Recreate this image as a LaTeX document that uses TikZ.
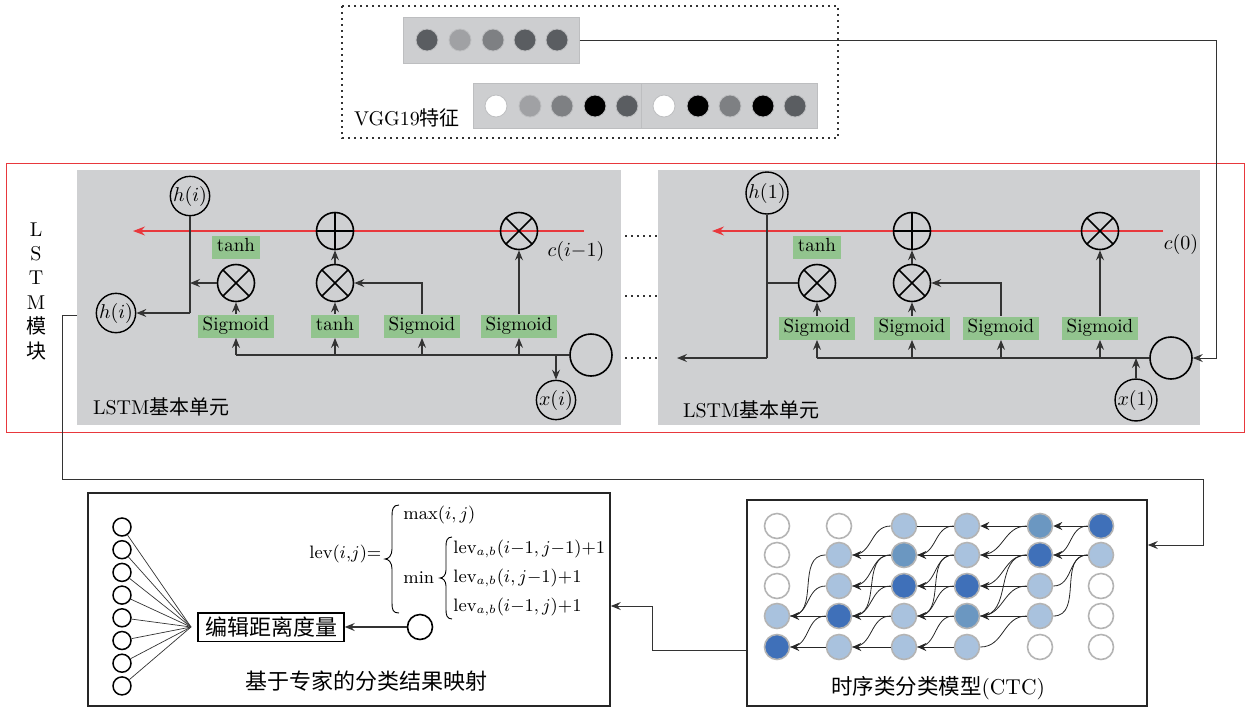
\documentclass[tikz,border=0pt]{standalone}
\usepackage{fontspec}
\newfontfamily\cjk{Noto Sans CJK SC}
\usetikzlibrary{arrows.meta}
\newcommand{\fsz}[2]{\fontsize{#1}{#2}\selectfont}
\definecolor{cellgray}{HTML}{CFD0D2}
\definecolor{barfill}{HTML}{CDCED0}
\definecolor{barline}{HTML}{BDBEC0}
\definecolor{sgreen}{HTML}{92C48E}
\definecolor{redl}{HTML}{E8383D}
\definecolor{lineg}{HTML}{333333}
\definecolor{ctcL}{HTML}{A9C2DE}
\definecolor{ctcM}{HTML}{6B97C1}
\definecolor{ctcD}{HTML}{3F70B9}
\definecolor{ctcO}{HTML}{B4B4B4}
\definecolor{vgD}{HTML}{5A5D61}
\definecolor{vgM}{HTML}{7E8083}
\definecolor{vgL}{HTML}{A0A1A4}
\begin{document}
\begin{tikzpicture}[x=0.5pt,y=-0.5pt,
 conn/.style={draw=lineg,line width=0.55pt},
 arr/.style={conn,-{Stealth[length=5pt,width=4pt,inset=1.75pt]}},
 gbox/.style={fill=sgreen,inner xsep=2.5pt,inner ysep=1.5pt,text height=6.5pt,text depth=2pt,font=\fsz{9.5}{11.5}},
 opc/.style={circle,draw=black,line width=0.8pt,minimum size=18.5pt,inner sep=0pt},
 otimes/.style={opc,path picture={\draw[line width=0.8pt] (path picture bounding box.north west)--(path picture bounding box.south east) (path picture bounding box.north east)--(path picture bounding box.south west);}},
 oplus/.style={opc,path picture={\draw[line width=0.8pt] (path picture bounding box.north)--(path picture bounding box.south) (path picture bounding box.west)--(path picture bounding box.east);}},
 vcirc/.style={circle,draw=black,line width=0.7pt,minimum size=18pt,inner sep=0pt,font=\fsz{10}{12}},
 bigc/.style={circle,draw=black,line width=0.8pt,minimum size=21pt,inner sep=0pt},
 lbl/.style={font=\fsz{10}{12}},
 fml/.style={font=\fsz{9}{11},anchor=west,inner sep=0pt},
 brc/.style={draw=black,line width=0.45pt},
 redarr/.style={draw=redl,line width=0.55pt,-{Stealth[length=6pt,width=4.5pt,inset=2pt]}},
 vg/.style={circle,minimum size=11pt,inner sep=0pt,draw=barline,line width=0.4pt},
 ct/.style={circle,minimum size=12.5pt,inner sep=0pt,draw=ctcO,line width=0.8pt},
 carr/.style={draw=black!85,line width=0.5pt,-{Stealth[length=4.5pt,width=4pt,inset=1.5pt]}},
 curve/.style={draw=black!85,line width=0.4pt},
 dotl/.style={dash pattern=on 0.8pt off 2.2pt,line width=0.8pt,draw=black!80},
]
\useasboundingbox (0,0) rectangle (1254,709);

% ---------- VGG19 features ----------
\draw[dotl] (342,6) rectangle (838,138);
\node[fill=barfill,draw=barline,line width=0.5pt,minimum width=88pt,minimum height=23pt,inner sep=0pt] (bar1) at (491,40) {};
\foreach \x/\c [count=\i] in {427/vgD,460/vgL,493/vgM,525/vgD,557/vgD}
  \node[vg,fill=\c] (va\i) at (\x,40) {};
\node[fill=barfill,draw=barline,line width=0.5pt,minimum width=172pt,minimum height=22.5pt,inner sep=0pt] (bar2) at (645,105.5) {};
\coordinate (dv1) at (641,83);
\coordinate (dv2) at (641,128);
\draw[barline,line width=0.5pt] (dv1) -- (dv2);
\foreach \x/\c [count=\i] in {496/white,530/vgL,562/vgM,595/black,627/vgD,664/white,698/black,730/vgM,763/black,795/vgD}
  \node[vg,fill=\c] (vb\i) at (\x,106) {};
\node[lbl,anchor=west] (vggl) at (347,118) {VGG19{\cjk 特征}};

% ---------- LSTM module ----------
\draw[redl,line width=0.5pt] (6,163) rectangle (1244,432);
\fill[cellgray] (77,170) rectangle (621,425);
\fill[cellgray] (658,170) rectangle (1200,425);
\node[font=\fsz{10}{12.2},align=center] (lstmlab) at (36,291) {L\\S\\T\\M\\{\cjk 模}\\{\cjk 块}};

% left cell
\coordinate (rL1) at (584,231);
\coordinate (rL0) at (133,231);
\draw[redarr] (rL1) -- (rL0);
\node[vcirc] (hT) at (190,196) {$h(i)$};
\node[oplus] (pL) at (335,231) {};
\node[otimes] (tL) at (519,231) {};
\node[lbl] (cL) at (576,251) {$c(i{-}1)$};
\node[gbox] (tanhL) at (236,247) {tanh};
\node[otimes] (xLa) at (236,283) {};
\node[otimes] (xLb) at (335,283) {};
\node[vcirc] (hL) at (116,313) {$h(i)$};
\node[gbox] (s1) at (236,326) {Sigmoid};
\node[gbox] (s2) at (335,326) {tanh};
\node[gbox] (s3) at (422,326) {Sigmoid};
\node[gbox] (s4) at (519,326) {Sigmoid};
\node[bigc] (bL) at (591,355) {};
\node[vcirc] (xi) at (556,400) {$x(i)$};
\node[lbl,anchor=west] (cellL) at (86,407) {LSTM{\cjk 基本单元}};
\coordinate (jL) at (190,313);
\coordinate (jL2) at (190,283);
\coordinate (iL0) at (236,355);
\draw[conn] (hT) -- (jL);
\draw[arr] (jL) -- (hL);
\draw[arr] (xLa.west) -- (jL2);
\draw[arr] (s1) -- (xLa);
\draw[arr] (s2) -- (xLb);
\draw[arr] (xLb) -- (pL);
\draw[arr] (s3.north) |- (xLb.east);
\draw[arr] (s4) -- (tL);
\draw[conn] (bL.west) -- (iL0);
\draw[arr] (iL0) -- (s1.south);
\draw[arr] (s2 |- bL) -- (s2.south);
\draw[arr] (s3 |- bL) -- (s3.south);
\draw[arr] (s4 |- bL) -- (s4.south);
\draw[arr] (xi |- bL) -- (xi.north);

% dots between cells
\foreach \y [count=\i] in {236,296,358}{
  \coordinate (da\i) at (625,\y);
  \coordinate (db\i) at (657,\y);
  \draw[dotl] (da\i) -- (db\i);
}

% right cell
\coordinate (rR1) at (1163,231);
\coordinate (rR0) at (712,231);
\draw[redarr] (rR1) -- (rR0);
\node[vcirc] (hR) at (767,193) {$h(1)$};
\node[oplus] (pR) at (912,231) {};
\node[otimes] (tR) at (1100,231) {};
\node[lbl] (cR) at (1181,244) {$c(0)$};
\node[gbox] (tanhR) at (817,247) {tanh};
\node[otimes] (xRa) at (817,283) {};
\node[otimes] (xRb) at (912,283) {};
\node[gbox] (r1) at (817,328) {Sigmoid};
\node[gbox] (r2) at (912,328) {Sigmoid};
\node[gbox] (r3) at (1001,328) {Sigmoid};
\node[gbox] (r4) at (1100,328) {Sigmoid};
\node[bigc] (bR) at (1171,358) {};
\node[vcirc] (x1) at (1136,400) {$x(1)$};
\node[lbl,anchor=west] (cellR) at (676,410) {LSTM{\cjk 基本单元}};
\coordinate (jR) at (767,358);
\coordinate (oR) at (677,358);
\coordinate (jR2) at (767,283);
\coordinate (iR0) at (817,358);
\draw[conn] (hR) -- (jR);
\draw[arr] (jR) -- (oR);
\draw[conn] (xRa.west) -- (jR2);
\draw[arr] (r1) -- (xRa);
\draw[arr] (r2) -- (xRb);
\draw[arr] (xRb) -- (pR);
\draw[arr] (r3.north) |- (xRb.east);
\draw[arr] (r4) -- (tR);
\draw[conn] (bR.west) -- (iR0);
\draw[arr] (iR0) -- (r1.south);
\draw[arr] (r2 |- bR) -- (r2.south);
\draw[arr] (r3 |- bR) -- (r3.south);
\draw[arr] (r4 |- bR) -- (r4.south);
\draw[arr] (x1.north) -- (x1 |- bR);

% VGG -> right cell
\coordinate (vc1) at (1216,40);
\coordinate (vc2) at (1216,358);
\draw[arr,line width=0.5pt] (bar1.east) -- (vc1) -- (vc2) -- (bR.east);

% ---------- CTC ----------
\node[draw=black!85,line width=0.8pt,minimum width=200pt,minimum height=103pt,inner sep=0pt] (ctcbox) at (947,603) {};
\foreach \col/\x/\ca/\cb/\cc/\cd/\ce in {1/777/white/white/white/ctcL/ctcD,2/839/white/ctcL/ctcL/ctcD/ctcL,3/904/ctcL/ctcM/ctcD/ctcL/ctcL,4/967/ctcL/ctcL/ctcD/ctcM/ctcL,5/1040/ctcM/ctcD/ctcL/ctcL/white,6/1101/ctcD/ctcL/white/white/white}{
  \node[ct,fill=\ca] (c\col1) at (\x,526) {};
  \node[ct,fill=\cb] (c\col2) at (\x,555) {};
  \node[ct,fill=\cc] (c\col3) at (\x,586) {};
  \node[ct,fill=\cd] (c\col4) at (\x,616) {};
  \node[ct,fill=\ce] (c\col5) at (\x,647) {};
}
\draw[curve,line width=0.5pt] (c41) -- (c31);
\foreach \a/\b in {61/51,51/41,62/52,52/42,42/32,32/22,53/43,43/33,33/23,54/44,44/34,34/24,24/14,45/35,35/25,25/15}
  \draw[carr] (c\a) -- (c\b);
\foreach \a/\b in {22/14,23/14,24/15,31/22,32/23,32/24,33/24,34/25,41/32,42/33,42/34,43/34,44/35,51/42,52/43,52/44,53/44,54/45,61/52,62/53,62/54}
  \draw[curve] (c\a.west) to[out=180,in=0,looseness=1.1] (c\b.east);
\node[font=\fsz{10.75}{13}] (ctclab) at (938,688) {{\cjk 时序类分类模型}(CTC)};

% LSTM -> CTC
\coordinate (k0) at (77,315);
\coordinate (k1) at (62,315);
\coordinate (k2) at (62,479);
\coordinate (k3) at (1203,479);
\coordinate (k4) at (1203,545);
\draw[arr,line width=0.5pt] (k0) -- (k1) -- (k2) -- (k3) -- (k4) -- (ctcbox.east |- k4);

% ---------- mapping box ----------
\node[draw=black!85,line width=0.8pt,minimum width=261pt,minimum height=106.5pt,inner sep=0pt] (mapbox) at (349,599.5) {};
\coordinate (mc) at (191,627);
\foreach \i in {0,...,7}{
  \node[circle,draw=black,line width=0.75pt,minimum size=9pt,inner sep=0pt] (m\i) at (122,527+22.7*\i) {};
  \draw[line width=0.35pt,black!80] (m\i) -- (mc);
}
\node[draw=black,line width=0.7pt,font=\fsz{11}{13},inner xsep=3.5pt,inner ysep=2pt] (edit) at (271,627) {\cjk 编辑距离度量};
\node[circle,draw=black,line width=0.8pt,minimum size=12.5pt,inner sep=0pt] (oc) at (420,627) {};
\draw[arr] (oc) -- (edit);

% formula
\node[fml] (flev) at (309,554) {$\mathrm{lev}(i{,}j){=}$};
\node[fml] (fmax) at (403,515) {$\max(i,j)$};
\node[fml] (fmin) at (403,578) {$\min$};
\node[fml] (fl1) at (453,549) {$\mathrm{lev}_{a,b}(i{-}1,j{-}1){+}1$};
\node[fml] (fl2) at (453,578) {$\mathrm{lev}_{a,b}(i,j{-}1){+}1$};
\node[fml] (fl3) at (453,607) {$\mathrm{lev}_{a,b}(i{-}1,j){+}1$};
\draw[brc] (399,505) .. controls (393,505) and (392,509) .. (392,516) -- (392,549) .. controls (392,555) and (389,559) .. (385,559) .. controls (389,559) and (392,563) .. (392,569) -- (392,603) .. controls (392,610) and (393,613) .. (399,613);
\draw[brc] (452,537) .. controls (447,537) and (446,541) .. (446,546) -- (446,570) .. controls (446,575) and (443,578) .. (440,578) .. controls (443,578) and (446,581) .. (446,586) -- (446,610) .. controls (446,615) and (447,619) .. (452,619);
\node[font=\fsz{11}{13}] (maplab) at (366,681) {\cjk 基于专家的分类结果映射};

% CTC -> mapping
\coordinate (q1) at (652,650);
\coordinate (q2) at (652,606);
\draw[arr,line width=0.5pt] (ctcbox.west |- q1) -- (q1) -- (q2) -- (mapbox.east |- q2);
\end{tikzpicture}
\end{document}
